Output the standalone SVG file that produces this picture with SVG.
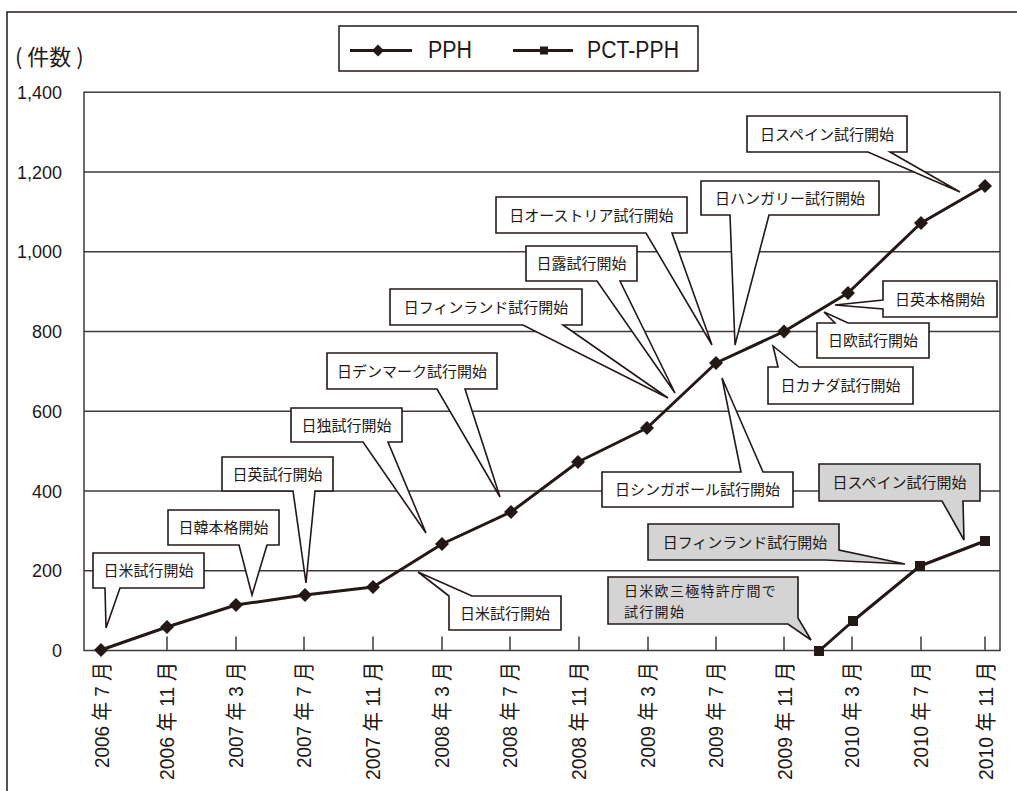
<svg xmlns="http://www.w3.org/2000/svg" xmlns:xlink="http://www.w3.org/1999/xlink" width="1017" height="791" viewBox="0 0 1017 791">
<style>
.frame{fill:none;stroke:#231815;stroke-width:1.5}
.grid{fill:none;stroke:#3e3a39;stroke-width:1.5}
.tick{stroke:#3e3a39;stroke-width:1.5}
.co{fill:#ffffff;stroke:#231815;stroke-width:1.6;stroke-linejoin:miter}
.cg{fill:#d4d4d4;stroke:#231815;stroke-width:1.6;stroke-linejoin:miter}
.ct{font-family:"Noto Sans CJK JP","Noto Sans",sans-serif;font-size:15px;fill:#231815;text-anchor:middle}
.ctl{font-family:"Noto Sans CJK JP","Noto Sans",sans-serif;font-size:14px;letter-spacing:1.3px;fill:#231815}
.ylab{font-family:"Liberation Sans","Noto Sans CJK JP",sans-serif;font-size:18px;fill:#231815;text-anchor:end}
.xlab{font-family:"Liberation Sans","Noto Sans CJK JP",sans-serif;font-size:21px;fill:#231815;text-anchor:end}
.series{fill:none;stroke:#231815;stroke-width:3;stroke-linejoin:round}
.mk{fill:#231815}
.leg{font-family:"Liberation Sans",sans-serif;font-size:23px;fill:#231815}
</style>
<defs>
<path id="dia" d="M0,-7 L7,0 L0,7 L-7,0 Z"/>
<rect id="sq" x="-5" y="-5" width="10" height="10"/>
</defs>
<rect width="1017" height="791" fill="#ffffff"/>
<path class="frame" d="M7,791 V12 H1017"/>

<g id="axes">
<path class="grid" d="M84,172 H1000 M84,251.7 H1000 M84,331.5 H1000 M84,411.2 H1000 M84,491 H1000 M84,570.8 H1000"/>
<rect class="grid" x="84" y="92.2" width="916" height="558.3"/>
<path class="tick" d="M167,636.5V650.5 M236,636.5V650.5 M304,636.5V650.5 M373,636.5V650.5 M442,636.5V650.5 M510,636.5V650.5 M579,636.5V650.5 M648,636.5V650.5 M716,636.5V650.5 M784,636.5V650.5 M852,636.5V650.5 M921,636.5V650.5 M985,636.5V650.5"/>
<text x="15" y="65" style="font-family:'Noto Sans CJK JP',sans-serif;font-size:22px;fill:#231815">( 件数 )</text>
<text class="ylab" x="62" y="99">1,400</text>
<text class="ylab" x="62" y="178.5">1,200</text>
<text class="ylab" x="62" y="258.2">1,000</text>
<text class="ylab" x="62" y="338">800</text>
<text class="ylab" x="62" y="417.7">600</text>
<text class="ylab" x="62" y="497.5">400</text>
<text class="ylab" x="62" y="577.3">200</text>
<text class="ylab" x="62" y="657">0</text>
<g class="xlab">
<text transform="translate(109,662) rotate(-90)" textLength="106" lengthAdjust="spacingAndGlyphs">2006 年 7 月</text>
<text transform="translate(174,662) rotate(-90)" textLength="118" lengthAdjust="spacingAndGlyphs">2006 年 11 月</text>
<text transform="translate(243,662) rotate(-90)" textLength="106" lengthAdjust="spacingAndGlyphs">2007 年 3 月</text>
<text transform="translate(311,662) rotate(-90)" textLength="106" lengthAdjust="spacingAndGlyphs">2007 年 7 月</text>
<text transform="translate(380,662) rotate(-90)" textLength="118" lengthAdjust="spacingAndGlyphs">2007 年 11 月</text>
<text transform="translate(449,662) rotate(-90)" textLength="106" lengthAdjust="spacingAndGlyphs">2008 年 3 月</text>
<text transform="translate(517,662) rotate(-90)" textLength="106" lengthAdjust="spacingAndGlyphs">2008 年 7 月</text>
<text transform="translate(586,662) rotate(-90)" textLength="118" lengthAdjust="spacingAndGlyphs">2008 年 11 月</text>
<text transform="translate(655,662) rotate(-90)" textLength="106" lengthAdjust="spacingAndGlyphs">2009 年 3 月</text>
<text transform="translate(723,662) rotate(-90)" textLength="106" lengthAdjust="spacingAndGlyphs">2009 年 7 月</text>
<text transform="translate(792,662) rotate(-90)" textLength="118" lengthAdjust="spacingAndGlyphs">2009 年 11 月</text>
<text transform="translate(859,662) rotate(-90)" textLength="106" lengthAdjust="spacingAndGlyphs">2010 年 3 月</text>
<text transform="translate(928,662) rotate(-90)" textLength="106" lengthAdjust="spacingAndGlyphs">2010 年 7 月</text>
<text transform="translate(993,662) rotate(-90)" textLength="118" lengthAdjust="spacingAndGlyphs">2010 年 11 月</text>
</g>
</g>

<g id="callout-us1"><path class="co" d="M93,553 H204 V588 H120 L106,628 L105,588 H93 Z"/><text class="ct" x="148.5" y="576">日米試行開始</text></g>
<g id="callout-kr"><path class="co" d="M168,510 H279 V545 H267 L252,595 L239,545 H168 Z"/><text class="ct" x="223.5" y="533">日韓本格開始</text></g>
<g id="callout-uk"><path class="co" d="M222,457 H333 V491 H315 L306,583 L293,491 H222 Z"/><text class="ct" x="277.5" y="479.5">日英試行開始</text></g>
<g id="callout-de"><path class="co" d="M291,408 H402 V442 H388 L426,533 L363,442 H291 Z"/><text class="ct" x="346.5" y="430.5">日独試行開始</text></g>
<g id="callout-dk"><path class="co" d="M327,353 H497 V389 H465 L500,497 L437,389 H327 Z"/><text class="ct" x="412" y="376.5">日デンマーク試行開始</text></g>
<g id="callout-fi1"><path class="co" d="M390,289 H582 V325 H563 L668,398 L523,325 H390 Z"/><text class="ct" x="486" y="312.5">日フィンランド試行開始</text></g>
<g id="callout-ru"><path class="co" d="M526,246 H637 V281 H620 L675,393 L597,281 H526 Z"/><text class="ct" x="581.5" y="269">日露試行開始</text></g>
<g id="callout-at"><path class="co" d="M496,197 H687 V233 H672 L712,345 L646,233 H496 Z"/><text class="ct" x="591.5" y="220.5">日オーストリア試行開始</text></g>
<g id="callout-hu"><path class="co" d="M701,181 H879 V215 H769 L735,345 L730,215 H701 Z"/><text class="ct" x="790" y="203.5">日ハンガリー試行開始</text></g>
<g id="callout-es1"><path class="co" d="M747,116 H907 V152 H890 L960,192 L868,152 H747 Z"/><text class="ct" x="827" y="139.5">日スペイン試行開始</text></g>
<g id="callout-uk2"><path class="co" d="M883,281 H997 V317 H883 V309 L835,305 L883,300 Z"/><text class="ct" x="940" y="304.5">日英本格開始</text></g>
<g id="callout-eu"><path class="co" d="M817,323 H835 L824,312 L848,323 H929 V358 H817 Z"/><text class="ct" x="873" y="346">日欧試行開始</text></g>
<g id="callout-ca"><path class="co" d="M768,367 H778 L773,346 L799,367 H913 V404 H768 Z"/><text class="ct" x="840.5" y="391">日カナダ試行開始</text></g>
<g id="callout-sg"><path class="co" d="M602,472 H741 L722,378 L763,472 H793 V507 H602 Z"/><text class="ct" x="697.5" y="495">日シンガポール試行開始</text></g>
<g id="callout-us2"><path class="co" d="M449,596 L418,572 L472,596 H561 V630 H449 Z"/><text class="ct" x="505" y="618.5">日米試行開始</text></g>
<g id="callout-es2"><path class="cg" d="M819,464 H980 V501 H963 L964,540 L942,501 H819 Z"/><text class="ct" x="899.5" y="488">日スペイン試行開始</text></g>
<g id="callout-fi2"><path class="cg" d="M648,524 H839 V550 L905,564 L825,560 H648 Z"/><text class="ct" x="745" y="547.5">日フィンランド試行開始</text></g>
<g id="callout-tri"><path class="cg" d="M608,577 H798 V618 L811,640 L788,624 H608 Z"/><text class="ctl"><tspan x="624" y="596">日米欧三極特許庁間で</tspan><tspan x="624" y="617">試行開始</tspan></text></g>

<g id="connectors">
<polyline class="series" points="101,650 167,627 236,605 305,595 373,587 442,544 511,512 578,462 647,428 716,363 784,331.5 848,293 921,223 985,186"/>
<polyline class="series" points="819,651 853,621 920,566 985,541"/>
</g>
<g id="markers-pph" class="mk">
<use xlink:href="#dia" x="101" y="650"/><use xlink:href="#dia" x="167" y="627"/><use xlink:href="#dia" x="236" y="605"/><use xlink:href="#dia" x="305" y="595"/><use xlink:href="#dia" x="373" y="587"/><use xlink:href="#dia" x="442" y="544"/><use xlink:href="#dia" x="511" y="512"/><use xlink:href="#dia" x="578" y="462"/><use xlink:href="#dia" x="647" y="428"/><use xlink:href="#dia" x="716" y="363"/><use xlink:href="#dia" x="784" y="331.5"/><use xlink:href="#dia" x="848" y="293"/><use xlink:href="#dia" x="921" y="223"/><use xlink:href="#dia" x="985" y="186"/>
</g>
<g id="markers-pct" class="mk">
<use xlink:href="#sq" x="819" y="651"/><use xlink:href="#sq" x="853" y="621"/><use xlink:href="#sq" x="920" y="566"/><use xlink:href="#sq" x="985" y="541"/>
</g>

<g id="legend">
<rect x="339" y="26" width="359" height="45" fill="#ffffff" stroke="#231815" stroke-width="1.5"/>
<line x1="350" y1="50.5" x2="412" y2="50.5" stroke="#231815" stroke-width="3"/>
<path class="mk" d="M378,44.5 L384,50.5 L378,56.5 L372,50.5 Z"/>
<text class="leg" x="428" y="57.5" textLength="44" lengthAdjust="spacingAndGlyphs">PPH</text>
<line x1="513" y1="50.5" x2="573" y2="50.5" stroke="#231815" stroke-width="3"/>
<rect class="mk" x="540" y="46.5" width="8" height="8"/>
<text class="leg" x="587" y="57.5" textLength="92" lengthAdjust="spacingAndGlyphs">PCT-PPH</text>
</g>
</svg>
